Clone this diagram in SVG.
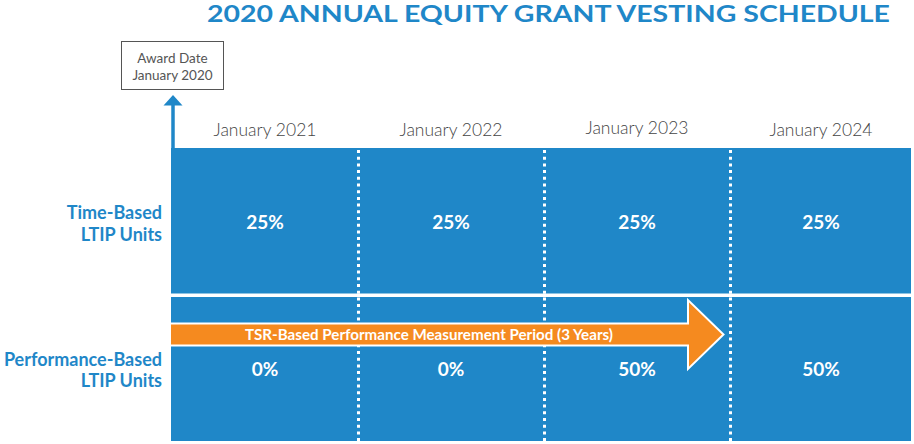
<svg xmlns="http://www.w3.org/2000/svg" width="914" height="444" viewBox="0 0 914 444">
<style>
  text { font-family: Lato, "Open Sans", "Liberation Sans", sans-serif; }
  .title { font-size: 22px; font-weight: 700; fill: #1f87c8; }
  .hdr { font-size: 17.5px; font-weight: 300; fill: #444; text-anchor: middle; }
  .row { font-size: 18px; font-weight: 700; fill: #1f87c8; text-anchor: end; }
  .pct { font-size: 19px; font-weight: 700; fill: #fff; text-anchor: middle; }
  .award { font-size: 13.5px; fill: #555; text-anchor: middle; }
  .band { fill: #1f87c8; }
  .dots { stroke: #fff; stroke-width: 3; stroke-dasharray: 3 3.7; fill: none; }
</style>
<text class="title" x="890" y="21.5" text-anchor="end" textLength="683" lengthAdjust="spacingAndGlyphs">2020 ANNUAL EQUITY GRANT VESTING SCHEDULE</text>
<g id="award">
  <rect x="121.5" y="41.5" width="102" height="48" fill="#fff" stroke="#555" stroke-width="1"/>
  <text class="award" x="172.5" y="63">Award Date</text>
  <text class="award" x="172.5" y="80">January 2020</text>
</g>
<g id="headers">
  <text class="hdr" x="265" y="136">January 2021</text>
  <text class="hdr" x="451" y="136">January 2022</text>
  <text class="hdr" x="637" y="134">January 2023</text>
  <text class="hdr" x="821" y="136">January 2024</text>
</g>
<g id="time-row">
  <rect class="band" x="171" y="148" width="740" height="145.5"/>
  <text class="row" x="162" y="219">Time-Based</text>
  <text class="row" x="162" y="241">LTIP Units</text>
</g>
<g id="perf-row">
  <rect class="band" x="171" y="297" width="740" height="144"/>
  <text class="row" x="162" y="366" font-size="18.5">Performance-Based</text>
  <text class="row" x="162" y="387">LTIP Units</text>
</g>
<g id="connectors">
  <line x1="173" y1="150" x2="173" y2="104" stroke="#1f87c8" stroke-width="3.5"/>
  <polygon points="163.5,105.5 173,95 182.5,105.5" fill="#1f87c8"/>
  <line class="dots" x1="358.5" y1="150" x2="358.5" y2="442"/>
  <line class="dots" x1="544.5" y1="150" x2="544.5" y2="442"/>
  <line class="dots" x1="730.5" y1="150" x2="730.5" y2="442"/>
</g>
<g id="pcts">
  <text class="pct" x="265" y="229">25%</text>
  <text class="pct" x="451" y="229">25%</text>
  <text class="pct" x="637" y="229">25%</text>
  <text class="pct" x="821" y="229">25%</text>
  <text class="pct" x="265" y="376">0%</text>
  <text class="pct" x="451" y="376">0%</text>
  <text class="pct" x="637" y="376">50%</text>
  <text class="pct" x="821" y="376">50%</text>
</g>
<g id="tsr-arrow">
  <polygon points="170,323.5 688,323.5 688,300 723.5,334.5 688,369 688,345.5 170,345.5" fill="#f58a1f" stroke="#fff" stroke-width="2"/>
  <text x="429" y="340" font-size="14.5" font-weight="700" fill="#fff" text-anchor="middle" textLength="368" lengthAdjust="spacingAndGlyphs">TSR-Based Performance Measurement Period (3 Years)</text>
</g>
</svg>
